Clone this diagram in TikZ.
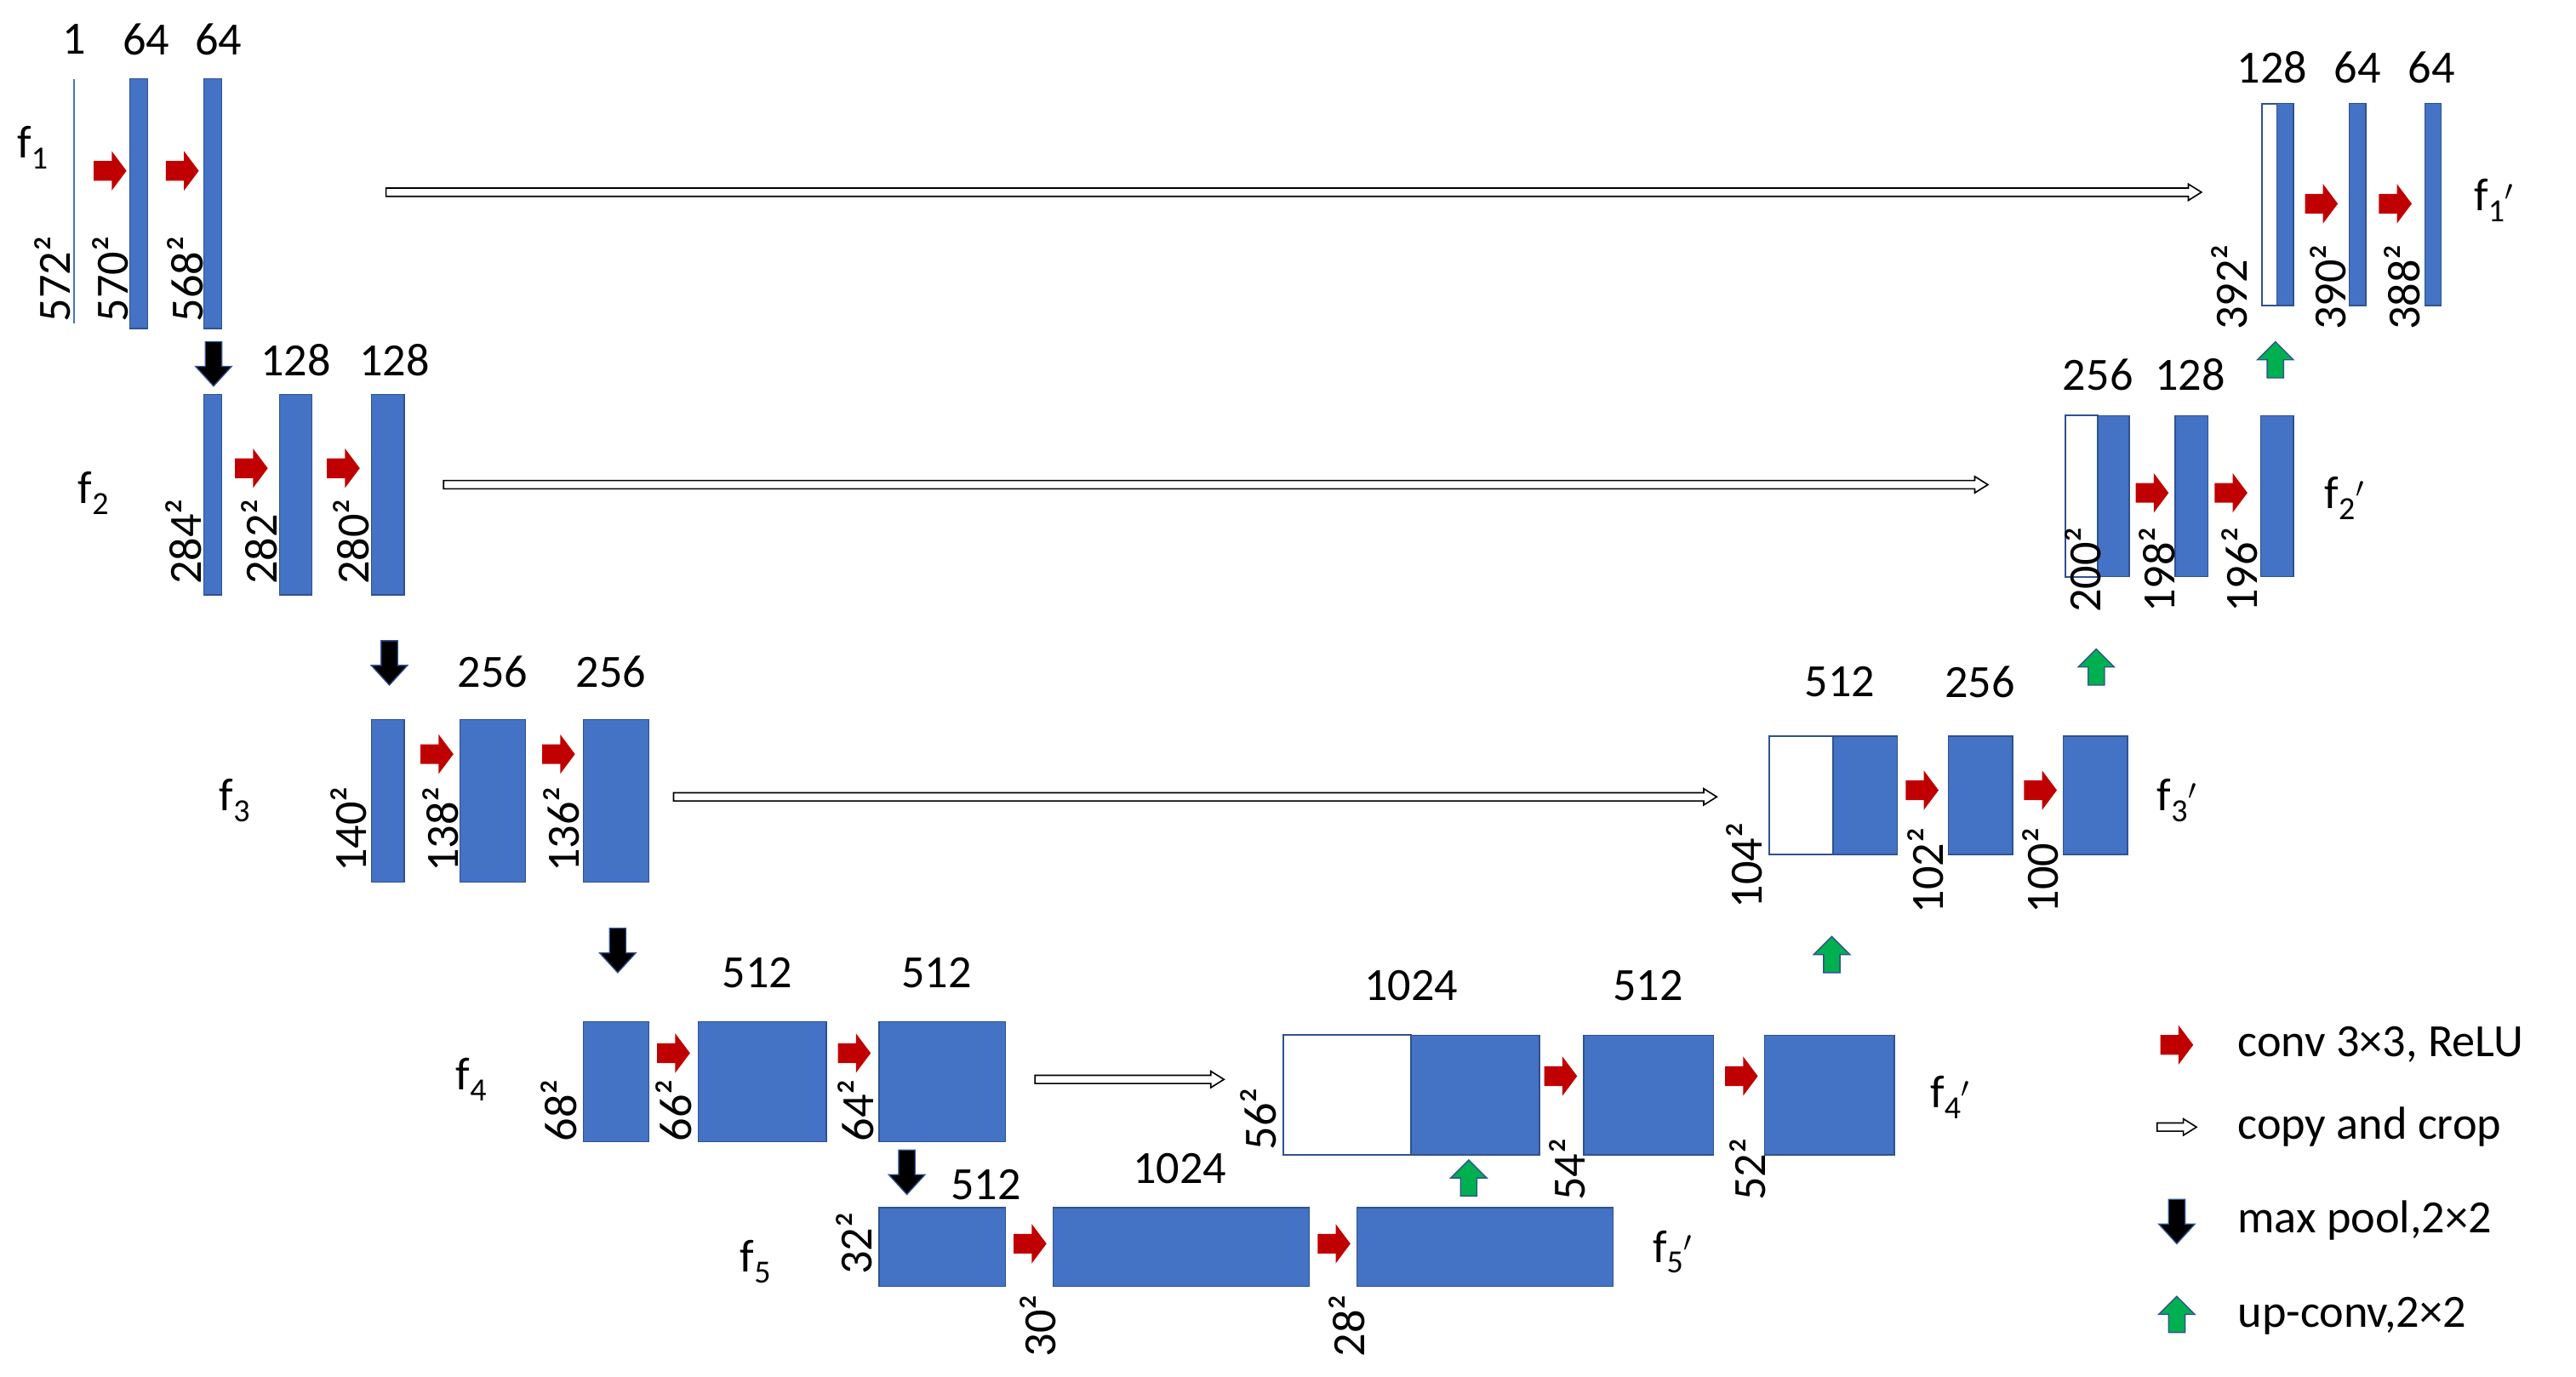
\documentclass[tikz,border=0pt]{standalone}
\usepackage{fontspec}
\setmainfont{Carlito}
\definecolor{ublue}{RGB}{68,114,196}
\definecolor{ublued}{RGB}{47,82,143}
\definecolor{ured}{RGB}{192,0,0}
\definecolor{ugreen}{RGB}{0,176,80}
\newcommand{\blk}[4]{\draw[ublued,line width=1pt,fill=ublue] (#1,#2) rectangle (#3,#4);}
\newcommand{\wbox}[4]{\draw[ublued,line width=1.5pt,fill=white] (#1,#2) rectangle (#3,#4);}
\newcommand{\redarr}[2]{\fill[ured] (#1,#2) ++(0,-6)--++(11,0)--++(0,-6)--++(9,12)--++(-9,12)--++(0,-6)--++(-11,0)--cycle;}
\newcommand{\downarr}[2]{\draw[ublued,line width=1pt,fill=black] (#1,#2) ++(-5,0)--++(10,0)--++(0,15)--++(6,0)--++(-11,12)--++(-11,-12)--++(6,0)--cycle;}
\newcommand{\uparr}[2]{\draw[ublued,line width=1pt,fill=ugreen] (#1,#2) ++(-5,0)--++(10,0)--++(0,-11)--++(6,0)--++(-11,-11)--++(-11,11)--++(6,0)--cycle;}
\newcommand{\copyarr}[3]{\draw[black,line width=1.2pt,fill=white] (#1,#3-2.5)--(#2-8,#3-2.5)--(#2-8,#3-5)--(#2,#3)--(#2-8,#3+5)--(#2-8,#3+2.5)--(#1,#3+2.5)--cycle;}
\tikzset{lab/.style={font=\fontsize{40}{44}\selectfont,inner sep=0pt},
rlab/.style={lab,rotate=90,anchor=west}}
\begin{document}
\begin{tikzpicture}[x=0.05cm,y=-0.05cm]
\useasboundingbox (0,0) rectangle (1568,838);
% f1
\draw[ublue,line width=1.5pt] (45,48)--(45,197);
\blk{79}{48}{90}{200}\blk{124}{48}{135}{200}
\node[lab] (t1) at (45,24) {1};\node[lab] (t2) at (89,24) {64};\node[lab] (t3) at (133,24) {64};
\node[lab] (fa) at (20,90) {f\textsubscript{1}};
\node[rlab] at (32,196) {572²};\node[rlab] at (67,196) {570²};\node[rlab] at (113,196) {568²};
\redarr{57}{104}\redarr{101}{104}
\copyarr{235}{1340}{117}
\downarr{130}{208}
% f2
\blk{124}{240}{135}{362}\blk{170}{240}{190}{362}\blk{226}{240}{246}{362}
\node[lab] at (180,219) {128};\node[lab] at (240,219) {128};
\node[lab] at (57,300) {f\textsubscript{2}};
\node[rlab] at (112,356) {284²};\node[rlab] at (158,356) {282²};\node[rlab] at (214,356) {280²};
\redarr{143}{285}\redarr{199}{285}
\copyarr{270}{1210}{295}
\downarr{237}{390}
% f3
\blk{226}{438}{246}{537}\blk{280}{438}{320}{537}\blk{355}{438}{395}{537}
\node[lab] at (300,409) {256};\node[lab] at (372,409) {256};
\node[lab] at (143,487) {f\textsubscript{3}};
\node[rlab] at (212,531) {140²};\node[rlab] at (268,531) {138²};\node[rlab] at (342,531) {136²};
\redarr{256}{459}\redarr{330}{459}
\copyarr{410}{1045}{485}
\downarr{376}{565}
% f4
\blk{355}{622}{395}{695}\blk{425}{622}{503}{695}\blk{535}{622}{612}{695}
\node[lab] at (461,592) {512};\node[lab] at (570,592) {512};
\node[lab] at (287,657) {f\textsubscript{4}};
\node[rlab] at (340,695) {68²};\node[rlab] at (410,695) {66²};\node[rlab] at (521,695) {64²};
\redarr{400}{641}\redarr{510}{641}
\copyarr{630}{745}{657}
\downarr{552}{700}
% f5
\blk{535}{735}{612}{783}\blk{641}{735}{797}{783}\blk{826}{735}{982}{783}
\node[lab] at (600,721) {512};\node[lab] at (718,711) {1024};
\node[lab] at (460,768) {f\textsubscript{5}};
\node[lab] at (1018,762) {f\textsubscript{5}$'$};
\node[rlab] at (520,776) {32²};\node[rlab] at (632,826) {30²};\node[rlab] at (820,826) {28²};
\redarr{617}{757}\redarr{802}{757}
\uparr{894}{728}
% f4'
\wbox{781}{630}{859}{703}\blk{859}{630}{937}{703}\blk{964}{630}{1043}{703}\blk{1074}{630}{1153}{703}
\node[lab] at (859,600) {1024};\node[lab] at (1003,600) {512};
\node[lab] at (1187,668) {f\textsubscript{4}$'$};
\node[rlab] at (766,700) {56²};\node[rlab] at (954,731) {54²};\node[rlab] at (1064,731) {52²};
\redarr{940}{655}\redarr{1050}{655}
\uparr{1115}{592}
% f3'
\wbox{1077}{448}{1116}{520}\blk{1116}{448}{1155}{520}\blk{1186}{448}{1225}{520}\blk{1256}{448}{1295}{520}
\node[lab] at (1120,415) {512};\node[lab] at (1205,415) {256};
\node[lab] at (1325,487) {f\textsubscript{3}$'$};
\node[rlab] at (1062,553) {104²};\node[rlab] at (1172,556) {102²};\node[rlab] at (1242,556) {100²};
\redarr{1160}{481}\redarr{1232}{481}
\uparr{1276}{417}
% f2'
\wbox{1257}{253}{1277}{351}\blk{1277}{253}{1296}{351}\blk{1324}{253}{1344}{351}\blk{1376}{253}{1396}{351}
\node[lab] at (1277,228) {256};\node[lab] at (1333,228) {128};
\node[lab] at (1427,303) {f\textsubscript{2}$'$};
\node[rlab] at (1268,373) {200²};\node[rlab] at (1313,373) {198²};\node[rlab] at (1363,373) {196²};
\redarr{1300}{300}\redarr{1348}{300}
\uparr{1385}{230}
% f1'
\wbox{1377}{63}{1386}{186}\blk{1386}{63}{1396}{186}\blk{1430}{63}{1440}{186}\blk{1476}{63}{1486}{186}
\node[lab] at (1383,41) {128};\node[lab] at (1435,41) {64};\node[lab] at (1480,41) {64};
\node[lab] at (1518,122) {f\textsubscript{1}$'$};
\node[rlab] at (1357,201) {392²};\node[rlab] at (1417,201) {390²};\node[rlab] at (1462,201) {388²};
\redarr{1403}{124}\redarr{1448}{124}
% legend
\redarr{1315}{636}\node[lab,anchor=west] at (1362,636) {conv 3×3, ReLU};
\copyarr{1313}{1337}{686}\node[lab,anchor=west] at (1362,686) {copy and crop};
\downarr{1325}{730}\node[lab,anchor=west] at (1362,743) {max pool,2×2};
\uparr{1325}{811}\node[lab,anchor=west] at (1362,801) {up-conv,2×2};
\end{tikzpicture}
\end{document}
